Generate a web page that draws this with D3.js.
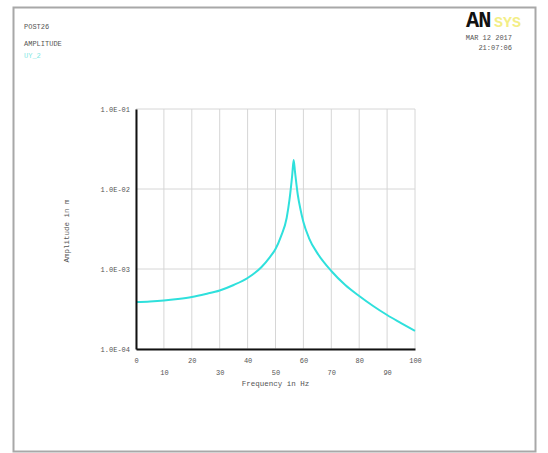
<!DOCTYPE html>
<html>
<head>
<meta charset="utf-8">
<script src="https://cdn.jsdelivr.net/npm/d3@7"></script>
<style>
  body { margin: 0; background: #fff; }
  svg text { font-family: "Liberation Mono", "DejaVu Sans Mono", monospace; }
</style>
</head>
<body>
<div id="vis"></div>
<script>
// frequency (Hz) and amplitude (m)
const freq = [0, 5, 10, 15, 20, 25, 30, 35, 40, 45, 48, 50, 52, 54, 55, 56, 56.5,
              57, 58, 59, 60, 62, 65, 70, 75, 80, 85, 90, 95, 100];
const amp = [3.87e-4, 3.93e-4, 4.04e-4, 4.22e-4, 4.47e-4, 4.87e-4, 5.39e-4, 6.31e-4,
             7.72e-4, 1.06e-3, 1.41e-3, 1.78e-3, 2.58e-3, 4.34e-3, 7.29e-3, 1.50e-2, 2.30e-2,
             1.63e-2, 8.41e-3, 5.46e-3, 3.87e-3, 2.44e-3, 1.58e-3, 9.44e-4, 6.31e-4,
             4.60e-4, 3.45e-4, 2.66e-4, 2.11e-4, 1.68e-4];
const yTicks = [1e-4, 1e-3, 1e-2, 1e-1];
const xTicks = [0, 10, 20, 30, 40, 50, 60, 70, 80, 90, 100];
const infoLines = ["POST26", "AMPLITUDE"];
const seriesName = "UY_2";
const dateLines = ["MAR 12 2017", "21:07:06"];

const W = 548, H = 453;
const M = {left: 136, right: 133, top: 109, bottom: 104};

const svg = d3.select("#vis").append("svg")
    .attr("width", W)
    .attr("height", H);

// outer window frame
svg.append("rect")
    .attr("x", 13.5).attr("y", 7.5)
    .attr("width", 522).attr("height", 444)
    .attr("fill", "#fff")
    .attr("stroke", "#a8a8a8")
    .attr("stroke-width", 2);

const X = d3.scaleLinear().domain([0, 100]).range([M.left, W - M.right]);
const Y = d3.scaleLog().domain([1e-4, 1e-1]).range([H - M.bottom, M.top]);

// grid
svg.append("g").selectAll("line")
    .data(xTicks)
    .enter().append("line")
        .attr("x1", d => X(d)).attr("x2", d => X(d))
        .attr("y1", Y(1e-1)).attr("y2", Y(1e-4))
        .attr("stroke", "#d6d6d6").attr("stroke-width", 1);
svg.append("g").selectAll("line")
    .data(yTicks)
    .enter().append("line")
        .attr("x1", X(0)).attr("x2", X(100))
        .attr("y1", d => Y(d)).attr("y2", d => Y(d))
        .attr("stroke", "#d6d6d6").attr("stroke-width", 1);

// curve
const line = d3.line()
    .x((d, i) => X(freq[i]))
    .y(d => Y(d))
    .curve(d3.curveMonotoneX);
svg.append("path")
    .attr("d", line(amp))
    .attr("fill", "none")
    .attr("stroke", "#2fe0dc")
    .attr("stroke-width", 2);

// y axis
const yAxis = svg.append("g")
    .attr("transform", "translate(" + M.left + ",0)")
    .call(d3.axisLeft(Y).tickValues(yTicks).tickSize(0).tickPadding(6)
        .tickFormat(d => "1.0E-0" + Math.round(-Math.log10(d))));
yAxis.select(".domain").attr("stroke", "#111").attr("stroke-width", 2);
yAxis.selectAll("text").attr("font-size", "7px").attr("fill", "#555")
    .attr("font-family", "Liberation Mono, monospace");

// x axis with staggered labels
const xAxis = svg.append("g")
    .attr("transform", "translate(0," + (H - M.bottom) + ")")
    .call(d3.axisBottom(X).tickValues(xTicks).tickSize(0).tickPadding(9));
xAxis.select(".domain").attr("stroke", "#111").attr("stroke-width", 2);
xAxis.selectAll("text").attr("font-size", "7px").attr("fill", "#555")
    .attr("font-family", "Liberation Mono, monospace")
    .attr("dy", (d, i) => i % 2 ? "2.4em" : "0.71em");

// axis titles
svg.append("text")
    .attr("x", X(50)).attr("y", 386)
    .attr("text-anchor", "middle")
    .attr("font-size", "7.5px").attr("fill", "#555")
    .text("Frequency in Hz");
svg.append("text")
    .attr("transform", "translate(69,231) rotate(-90)")
    .attr("text-anchor", "middle")
    .attr("font-size", "7.5px").attr("fill", "#555")
    .text("Amplitude in m");

// top-left info
svg.selectAll(".info")
    .data(infoLines)
    .enter().append("text")
        .attr("x", 24).attr("y", (d, i) => 29 + i * 17)
        .attr("font-size", "7px").attr("fill", "#555")
        .text(d => d);
svg.append("text")
    .attr("x", 24).attr("y", 58)
    .attr("font-size", "7px").attr("fill", "#7fe8e4")
    .text(seriesName);

// logo and date
svg.append("text")
    .attr("x", 466).attr("y", 27)
    .attr("font-family", "Liberation Sans, Arial, sans-serif")
    .attr("font-weight", "bold").attr("font-size", "22px")
    .attr("letter-spacing", "-1px")
    .attr("fill", "#111")
    .text("AN");
svg.append("text")
    .attr("x", 494).attr("y", 27)
    .attr("font-family", "Liberation Sans, Arial, sans-serif")
    .attr("font-weight", "bold").attr("font-size", "15px")
    .attr("fill", "#f3ee86")
    .text("SYS");
svg.selectAll(".date")
    .data(dateLines)
    .enter().append("text")
        .attr("x", 512).attr("y", (d, i) => 40 + i * 10)
        .attr("text-anchor", "end")
        .attr("font-size", "7px").attr("fill", "#555")
        .text(d => d);
</script>
</body>
</html>
